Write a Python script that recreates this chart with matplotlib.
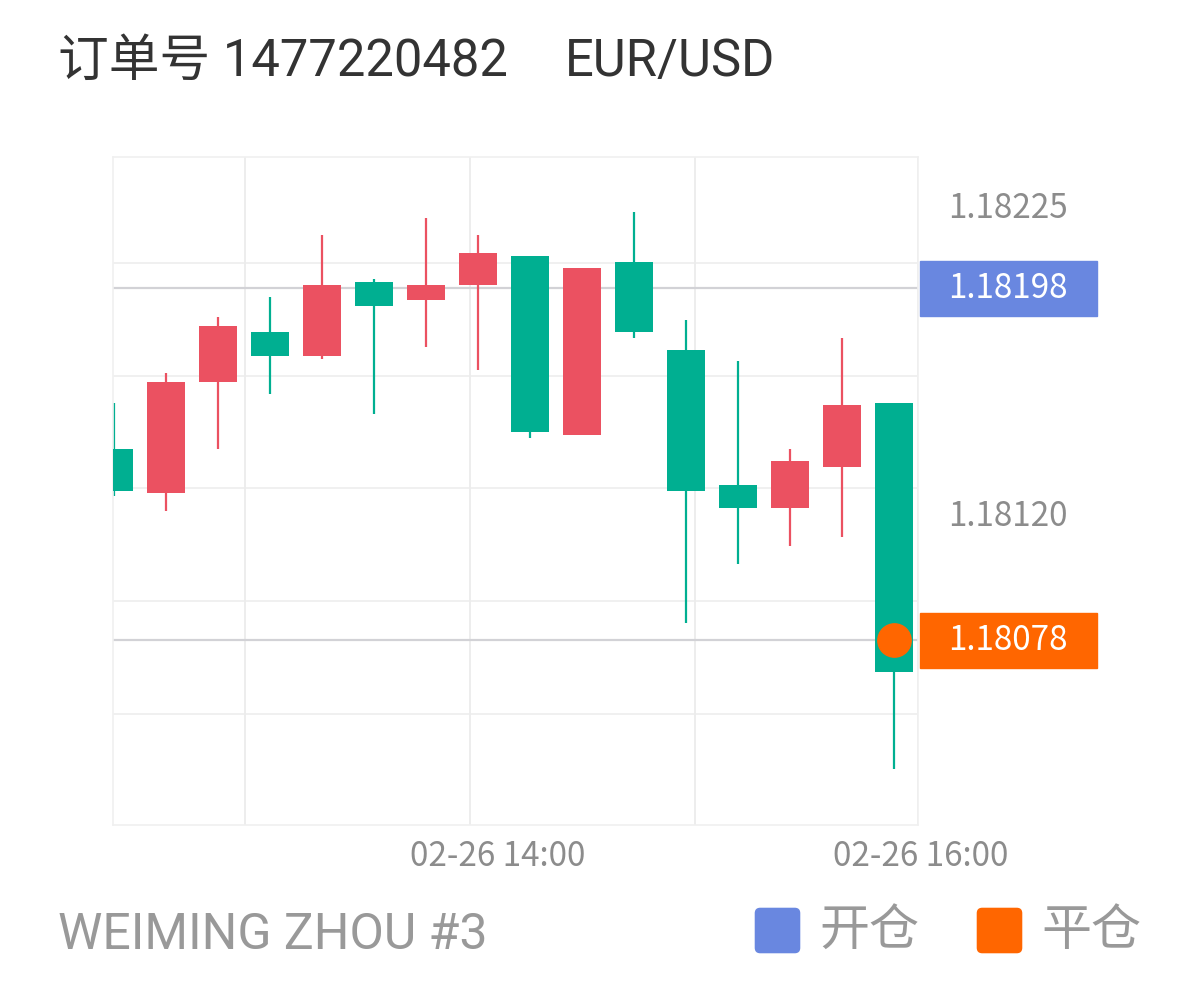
import numpy as np
import matplotlib
matplotlib.use("Agg")
import matplotlib.pyplot as plt
from matplotlib.patches import Rectangle, FancyBboxPatch
from matplotlib.transforms import blended_transform_factory

# candle data (index 0..15)
opens  = [1.18143, 1.18128, 1.18166, 1.18183, 1.18175, 1.18200, 1.18194, 1.18199,
          1.18209, 1.18148, 1.18207, 1.18177, 1.18131, 1.18123, 1.18137, 1.18159]
highs  = [1.18159, 1.18169, 1.18188, 1.18195, 1.18216, 1.18201, 1.18222, 1.18216,
          1.18209, 1.18205, 1.18224, 1.18187, 1.18173, 1.18143, 1.18181, 1.18159]
lows   = [1.18127, 1.18122, 1.18143, 1.18162, 1.18174, 1.18155, 1.18178, 1.18170,
          1.18147, 1.18148, 1.18181, 1.18084, 1.18104, 1.18110, 1.18113, 1.18034]
closes = [1.18129, 1.18166, 1.18185, 1.18175, 1.18199, 1.18192, 1.18199, 1.18210,
          1.18149, 1.18205, 1.18183, 1.18129, 1.18123, 1.18139, 1.18158, 1.18067]

open_price = 1.18198
close_price = 1.18078
axis_labels = [1.18225, 1.18120]
grid_levels = [1.182066, 1.181681, 1.181299, 1.180914, 1.180529]
hour_lines = [2.52, 6.85, 11.17, 15.46]
time_labels = ["02-26 14:00", "02-26 16:00"]
time_label_pos = [7.38, 15.52]

title_left = "订单号 1477220482"
title_right = "EUR/USD"
footer = "WEIMING ZHOU #3"
legend_names = ["开仓", "平仓"]

UP = "#eb5161"
DOWN = "#00af91"
BLUE = "#6987e0"
ORANGE = "#ff6600"
GRAY = "#8c8c8c"

W, H = 1198, 990
fig = plt.figure(figsize=(W / 100, H / 100), dpi=100)
fam = ["Noto Sans CJK SC", "DejaVu Sans"]
rob = ["Roboto", "Noto Sans CJK SC"]

def fx(x):
    return x / W

def fy(y):
    return 1 - y / H

ax = fig.add_axes([fx(113), fy(825), fx(918) - fx(113), fy(157) - fy(825)])
ax.set_xlim(-0.02, 15.46)
ax.set_ylim(1.18015, 1.182427)
for s in ax.spines.values():
    s.set_color("#f0f0f0")
    s.set_linewidth(1.2)
ax.set_xticks([])
ax.set_yticks([])

for g in grid_levels:
    ax.axhline(g, color="#efefef", lw=1.3, zorder=0)
for h in hour_lines:
    ax.axvline(h, color="#ececec", lw=1.3, zorder=0)

ax.axhline(open_price, color="#d2d2d6", lw=1.6, zorder=1)
ax.axhline(close_price, color="#d2d2d6", lw=1.6, zorder=1)

idx = np.arange(len(opens))
o = np.array(opens)
c = np.array(closes)
cols = [UP if cc > oo else DOWN for oo, cc in zip(o, c)]
ax.vlines(idx, lows, highs, colors=cols, lw=1.6, zorder=2)
ax.bar(idx, np.abs(c - o), bottom=np.minimum(o, c), width=0.73, color=cols, zorder=3)

ax.plot([idx[-1]], [close_price], "o", color=ORANGE, markersize=24, zorder=4, clip_on=False)

# right side labels
tr = blended_transform_factory(ax.transAxes, ax.transData)
lx0 = (920 - 113) / 805
lx1 = (1097 - 113) / 805
lxc = (1008 - 113) / 805
bh = 55 * (1.182427 - 1.18015) / 668
for v in axis_labels:
    ax.text(lxc, v, f"{v:.5f}", transform=tr, ha="center", va="center",
            fontsize=24, color=GRAY, family=fam)
for v, col in [(open_price, BLUE), (close_price, ORANGE)]:
    ax.add_patch(Rectangle((lx0, v - bh / 2), lx1 - lx0, bh, transform=tr,
                           color=col, clip_on=False, zorder=5))
    ax.text(lxc, v, f"{v:.5f}", transform=tr, ha="center", va="center",
            fontsize=24, color="white", family=fam, zorder=6)

trx = blended_transform_factory(ax.transData, fig.transFigure)
for lab, p in zip(time_labels, time_label_pos):
    ax.text(p, fy(856), lab, transform=trx, ha="center", va="center",
            fontsize=24, color=GRAY, family=fam)

# header / footer
fig.text(fx(58), fy(76), title_left, fontsize=36.5, color="#333333", family=rob, va="baseline")
fig.text(fx(565), fy(76), title_right, fontsize=36.5, color="#333333", family=rob, va="baseline")
fig.text(fx(58), fy(949), footer, fontsize=36, color="#999999", family=rob, va="baseline")

for (x0, col, name) in [(755, BLUE, legend_names[0]), (977, ORANGE, legend_names[1])]:
    fig.patches.append(FancyBboxPatch((fx(x0 + 4), fy(949)), fx(37), fy(0) - fy(37),
                                      boxstyle="round,pad=0.003,rounding_size=0.004",
                                      transform=fig.transFigure, color=col,
                                      mutation_aspect=W / H))
    fig.text(fx(x0 + 64), fy(931), name, fontsize=36, color="#999999", family=fam, va="center")

fig.savefig("out.png", dpi=100, facecolor="white")
